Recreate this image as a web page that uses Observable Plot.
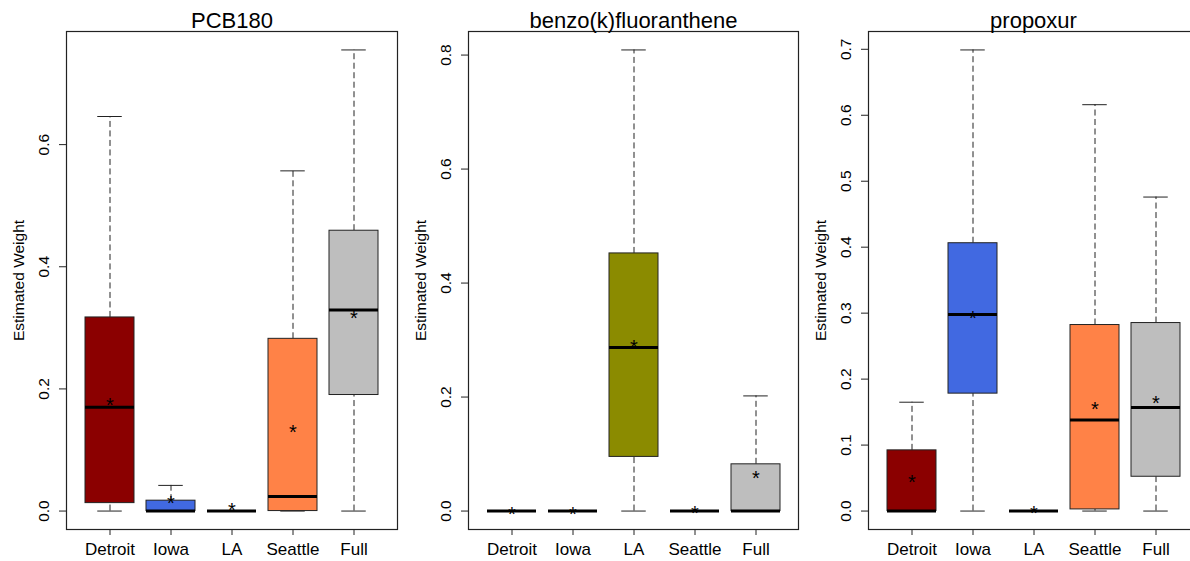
<!DOCTYPE html>
<html>
<head>
<meta charset="utf-8">
<script src="https://cdn.jsdelivr.net/npm/d3@7"></script>
<script src="https://cdn.jsdelivr.net/npm/@observablehq/plot@0.6"></script>
<style>
  html, body { margin: 0; padding: 0; background: white; }
  #wrap { width: 1190px; height: 561px; overflow: hidden; display: flex; background: white; }
  #wrap svg { flex-shrink: 0; display: block; }
</style>
</head>
<body>
<div id="wrap"></div>
<script>
// Categories and colours
const sites = ["Detroit", "Iowa", "LA", "Seattle", "Full"];
const siteColors = ["#8B0000", "#4169E1", "#8B8B00", "#FF8247", "#BEBEBE"];

// PCB180
const pcbLow    = [0, 0, 0, 0, 0];
const pcbQ1     = [0.013, 0, 0, 0, 0.190];
const pcbMedian = [0.170, 0, 0, 0.024, 0.329];
const pcbQ3     = [0.317, 0.017, 0, 0.282, 0.459];
const pcbHigh   = [0.646, 0.042, 0, 0.557, 0.755];
const pcbMean   = [0.181, 0.020, 0.009, 0.137, 0.323];
const pcbTicks  = [0, 0.2, 0.4, 0.6];

// benzo(k)fluoranthene
const bkfLow    = [0, 0, 0, 0, 0];
const bkfQ1     = [0, 0, 0.095, 0, 0];
const bkfMedian = [0, 0, 0.287, 0, 0];
const bkfQ3     = [0, 0, 0.452, 0, 0.082];
const bkfHigh   = [0, 0, 0.809, 0, 0.202];
const bkfMean   = [0.002, 0.002, 0.295, 0.005, 0.066];
const bkfTicks  = [0, 0.2, 0.4, 0.6, 0.8];

// propoxur
const proLow    = [0, 0, 0, 0, 0];
const proQ1     = [0, 0.178, 0, 0.0025, 0.052];
const proMedian = [0, 0.298, 0, 0.138, 0.157];
const proQ3     = [0.092, 0.406, 0, 0.282, 0.285];
const proHigh   = [0.165, 0.699, 0, 0.616, 0.476];
const proMean   = [0.051, 0.300, 0.004, 0.162, 0.170];
const proTicks  = [0, 0.1, 0.2, 0.3, 0.4, 0.5, 0.6, 0.7];

const yTitle = "Estimated Weight";

function panel(title, lo, q1, med, q3, hi, mean, ticks, marginLeft, marginRight) {
  const rows = sites.map((s, i) => ({
    site: s, color: siteColors[i],
    lo: lo[i], q1: q1[i], med: med[i], q3: q3[i], hi: hi[i], mean: mean[i]
  }));
  const maxV = d3.max(rows, d => d.hi);
  const pad = 0.04 * maxV;
  const ink = "#222";
  return Plot.plot({
    width: 400,
    height: 561,
    marginLeft, marginRight,
    marginTop: 31,
    marginBottom: 32,
    style: {fontFamily: "'Liberation Sans', Arial, sans-serif", fontSize: "16px", color: "#000", background: "white", overflow: "visible"},
    x: {type: "band", domain: sites, paddingInner: 0.2, paddingOuter: 0.3, label: null},
    y: {domain: [-pad, maxV + pad], label: null},
    color: {type: "identity"},
    marks: [
      Plot.ruleX(rows, {x: "site", y1: "q3", y2: "hi", stroke: ink, strokeWidth: 1, strokeDasharray: "6,3.5"}),
      Plot.ruleX(rows, {x: "site", y1: "lo", y2: "q1", stroke: ink, strokeWidth: 1, strokeDasharray: "6,3.5"}),
      Plot.tickY(rows, {x: "site", y: "hi", stroke: ink, strokeWidth: 1, insetLeft: 12.25, insetRight: 12.25}),
      Plot.tickY(rows, {x: "site", y: "lo", stroke: ink, strokeWidth: 1, insetLeft: 12.25, insetRight: 12.25}),
      Plot.barY(rows, {x: "site", y1: "q1", y2: "q3", fill: "color", stroke: ink, strokeWidth: 1}),
      Plot.tickY(rows, {x: "site", y: "med", stroke: "#000", strokeWidth: 3}),
      Plot.text(rows, {x: "site", y: "mean", text: () => "*", fontSize: 20, dy: 5, fill: "#000"}),
      Plot.frame({stroke: ink, strokeWidth: 1.2}),
      Plot.axisX({tickSize: 6, tickPadding: 7, fontSize: 17, stroke: ink}),
      Plot.axisY({ticks, tickSize: 7, tickFormat: () => "", stroke: ink}),
      Plot.text(ticks, {y: d => d, frameAnchor: "left", dx: -22, rotate: -90, textAnchor: "middle", lineAnchor: "middle", text: d => d.toFixed(1), fontSize: 15.5, fill: "#000"}),
      Plot.text([yTitle], {frameAnchor: "left", dx: -47, rotate: -90, textAnchor: "middle", lineAnchor: "middle", text: d => d, fontSize: 15.5, fill: "#000"}),
      Plot.text([title], {frameAnchor: "top", dy: -4, textAnchor: "middle", lineAnchor: "bottom", text: d => d, fontSize: 22, fill: "#000"})
    ]
  });
}

const wrap = document.getElementById("wrap");
wrap.appendChild(panel("PCB180", pcbLow, pcbQ1, pcbMedian, pcbQ3, pcbHigh, pcbMean, pcbTicks, 66, 3));
wrap.appendChild(panel("benzo(k)fluoranthene", bkfLow, bkfQ1, bkfMedian, bkfQ3, bkfHigh, bkfMean, bkfTicks, 68, 2));
wrap.appendChild(panel("propoxur", proLow, proQ1, proMedian, proQ3, proHigh, proMean, proTicks, 68, 2));
</script>
</body>
</html>
